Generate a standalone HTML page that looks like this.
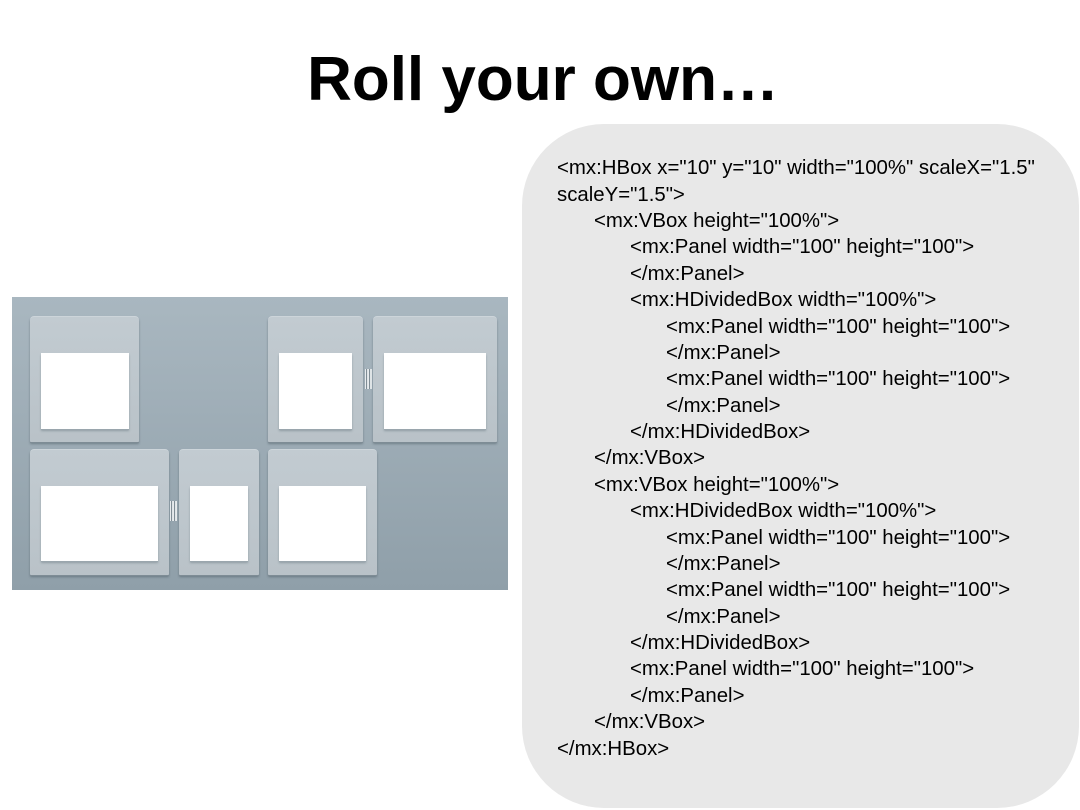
<!DOCTYPE html>
<html>
<head>
<meta charset="utf-8">
<style>
  html, body { margin:0; padding:0; }
  body { width:1080px; height:810px; position:relative; background:#ffffff; overflow:hidden; font-family:"Liberation Sans", sans-serif; }
  .title { position:absolute; left:296px; top:44px; width:494px; text-align:center; font-weight:bold; font-size:62px; line-height:72px; color:#000; white-space:nowrap; }
  .codebox { position:absolute; left:522px; top:124px; width:557px; height:684px; background:#e8e8e8; border-radius:82px; }
  .code { position:absolute; left:557px; top:155.3px; font-size:20.4px; line-height:26.38px; color:#000; white-space:pre; }
  .code div { height:26.38px; }
  .i1 { padding-left:37px; }
  .i2 { padding-left:73px; }
  .i3 { padding-left:109px; }
  .bg { position:absolute; left:12px; top:297px; width:496px; height:293px; background:linear-gradient(#a9b7c0, #8f9fa9); }
  .panel { position:absolute; background:linear-gradient(#c2cbd1, #b9c2c8); border-radius:4px 4px 1px 1px; box-shadow:0 1px 0 #7e8c95, 0 2px 2px rgba(60,75,85,0.45); border-top:1px solid #cdd5da; box-sizing:border-box; }
  .inner { position:absolute; background:#ffffff; box-shadow:0 1px 0 #9aa6ad, 0 2px 2px rgba(70,85,95,0.35); }
  .grip { position:absolute; width:7px; height:20px; background:repeating-linear-gradient(90deg, #e6eaed 0 1px, #7f8c94 1px 2px, #dfe4e7 2px 3px); }
</style>
</head>
<body>
  <div class="title">Roll your own…</div>

  <div class="codebox"></div>
  <div class="code"><div>&lt;mx:HBox x="10" y="10" width="100%" scaleX="1.5"</div><div>scaleY="1.5"&gt;</div><div class="i1">&lt;mx:VBox height="100%"&gt;</div><div class="i2">&lt;mx:Panel width="100" height="100"&gt;</div><div class="i2">&lt;/mx:Panel&gt;</div><div class="i2">&lt;mx:HDividedBox width="100%"&gt;</div><div class="i3">&lt;mx:Panel width="100" height="100"&gt;</div><div class="i3">&lt;/mx:Panel&gt;</div><div class="i3">&lt;mx:Panel width="100" height="100"&gt;</div><div class="i3">&lt;/mx:Panel&gt;</div><div class="i2">&lt;/mx:HDividedBox&gt;</div><div class="i1">&lt;/mx:VBox&gt;</div><div class="i1">&lt;mx:VBox height="100%"&gt;</div><div class="i2">&lt;mx:HDividedBox width="100%"&gt;</div><div class="i3">&lt;mx:Panel width="100" height="100"&gt;</div><div class="i3">&lt;/mx:Panel&gt;</div><div class="i3">&lt;mx:Panel width="100" height="100"&gt;</div><div class="i3">&lt;/mx:Panel&gt;</div><div class="i2">&lt;/mx:HDividedBox&gt;</div><div class="i2">&lt;mx:Panel width="100" height="100"&gt;</div><div class="i2">&lt;/mx:Panel&gt;</div><div class="i1">&lt;/mx:VBox&gt;</div><div>&lt;/mx:HBox&gt;</div></div>

  <div class="bg"></div>
  <!-- Row 1 -->
  <div class="panel" style="left:30px;top:316px;width:109px;height:126px;"></div>
  <div class="inner" style="left:41px;top:353px;width:88px;height:76px;"></div>

  <div class="panel" style="left:268px;top:316px;width:95px;height:126px;"></div>
  <div class="inner" style="left:279px;top:353px;width:73px;height:76px;"></div>

  <div class="grip" style="left:365px;top:369px;"></div>

  <div class="panel" style="left:373px;top:316px;width:124px;height:126px;"></div>
  <div class="inner" style="left:384px;top:353px;width:102px;height:76px;"></div>

  <!-- Row 2 -->
  <div class="panel" style="left:30px;top:449px;width:139px;height:126px;"></div>
  <div class="inner" style="left:41px;top:486px;width:117px;height:75px;"></div>

  <div class="grip" style="left:170px;top:501px;"></div>

  <div class="panel" style="left:179px;top:449px;width:80px;height:126px;"></div>
  <div class="inner" style="left:190px;top:486px;width:58px;height:75px;"></div>

  <div class="panel" style="left:268px;top:449px;width:109px;height:126px;"></div>
  <div class="inner" style="left:279px;top:486px;width:87px;height:75px;"></div>
</body>
</html>
